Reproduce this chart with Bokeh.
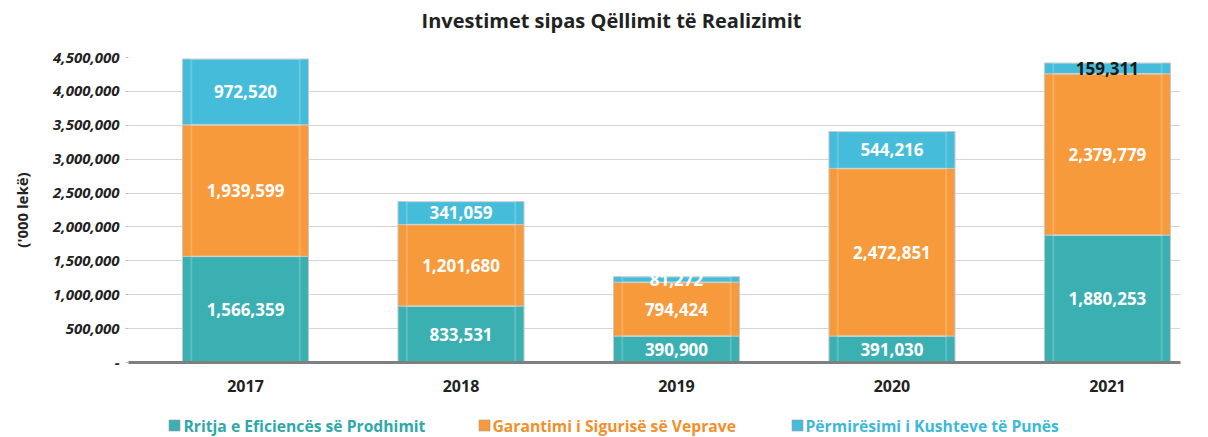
import numpy as np
from bokeh.plotting import figure
from bokeh.layouts import column
from bokeh.models import ColumnDataSource, FixedTicker, NumeralTickFormatter, Range1d
from bokeh.core.properties import value
from bokeh.embed import file_html
from bokeh.resources import INLINE

title_text = "Investimet sipas Qëllimit të Realizimit"
years = ["2017", "2018", "2019", "2020", "2021"]
series_names = ["Rritja e Eficiencës së Prodhimit", "Garantimi i Sigurisë së Veprave", "Përmirësimi i Kushteve të Punës"]
eficienca = [1566359, 833531, 390900, 391030, 1880253]
siguria = [1939599, 1201680, 794424, 2472851, 2379779]
kushtet = [972520, 341059, 81272, 544216, 159311]
y_ticks = [0, 500000, 1000000, 1500000, 2000000, 2500000, 3000000, 3500000, 4000000, 4500000]

colors = ["#3BB0B2", "#F79A3B", "#45BDDA"]
legend_colors = ["#2EA8A8", "#F28F2A", "#3DB9D8"]
FONT = "Open Sans"
W = 1208
TH, PH, LH = 40, 365, 32
FL, FR = 128, 1180  # frame left / right in page pixels


def blank(h):
    f = figure(width=W, height=h, output_backend="svg", toolbar_location=None,
               x_range=Range1d(FL, FR), y_range=Range1d(0, h),
               min_border_left=FL, min_border_right=W - FR,
               min_border_top=0, min_border_bottom=0)
    f.axis.visible = False
    f.grid.visible = False
    f.outline_line_color = None
    return f

# ---- title strip
tf = blank(TH)
tf.text(x=[611], y=[TH - 20], text=[title_text], text_align="center", text_baseline="middle",
        text_font=value(FONT), text_font_style="bold", text_font_size="20px", text_color="#222222")

# ---- main chart
p = figure(width=W, height=PH, output_backend="svg", toolbar_location=None,
           x_range=Range1d(-0.543, 4.339), y_range=Range1d(0, 4500000),
           min_border_left=FL, min_border_right=W - FR, min_border_top=17, min_border_bottom=43)
p.outline_line_color = None

x = np.arange(len(years))
series = [eficienca, siguria, kushtet]
bottom = np.zeros(len(years))
for vals, c in zip(series, colors):
    vals = np.array(vals, dtype=float)
    top = bottom + vals
    src = ColumnDataSource(dict(x=x, bottom=bottom, top=top))
    p.vbar(x="x", bottom="bottom", top="top", width=0.585, source=src,
           fill_color=c, line_color="#C8C8C8", line_width=1)
    p.vbar(x="x", bottom="bottom", top="top", width=0.585 * 0.86, source=src,
           fill_alpha=0, line_color="white", line_alpha=0.18, line_width=2)
    bottom = top

bottom = np.zeros(len(years))
for si, vals in enumerate(series):
    vals = np.array(vals, dtype=float)
    mid = bottom + vals / 2
    txt = [f"{int(v):,}" for v in vals]
    tcol = ["white"] * len(years)
    if si == 2:
        tcol[4] = "#1A1A1A"
    src = ColumnDataSource(dict(x=x, y=mid, t=txt, c=tcol))
    p.text(x="x", y="y", text="t", source=src, text_color="c", text_align="center",
           text_baseline="middle", text_font=value(FONT), text_font_style="bold",
           text_font_size="17px")
    bottom = bottom + vals

p.xgrid.grid_line_color = None
p.ygrid.grid_line_color = "#D4D4D4"
p.ygrid.grid_line_width = 1
p.yaxis.ticker = FixedTicker(ticks=y_ticks)
p.yaxis.formatter = NumeralTickFormatter(format="0,0")
p.yaxis.major_label_overrides = {0: "-"}
p.yaxis.major_label_text_font = FONT
p.yaxis.major_label_text_font_style = "bold italic"
p.yaxis.major_label_text_font_size = "15px"
p.yaxis.major_label_text_color = "#222222"
p.yaxis.axis_line_color = None
p.yaxis.major_tick_line_color = "#BFBFBF"
p.yaxis.major_tick_in = 0
p.yaxis.major_tick_out = 3
p.yaxis.minor_tick_line_color = None
p.yaxis.major_label_standoff = 6
p.yaxis.axis_label = "('000 lekë)"
p.yaxis.axis_label_text_font = FONT
p.yaxis.axis_label_text_font_style = "bold"
p.yaxis.axis_label_text_font_size = "15px"
p.yaxis.axis_label_text_color = "#222222"
p.yaxis.axis_label_standoff = 18

p.xaxis.ticker = FixedTicker(ticks=list(x))
p.xaxis.major_label_overrides = {int(i): y for i, y in zip(x, years)}
p.xaxis.major_label_text_font = FONT
p.xaxis.major_label_text_font_style = "bold"
p.xaxis.major_label_text_font_size = "16px"
p.xaxis.major_label_text_color = "#222222"
p.xaxis.axis_line_color = "#7F7F7F"
p.xaxis.axis_line_width = 3
p.xaxis.major_tick_line_color = None
p.xaxis.minor_tick_line_color = None
p.xaxis.major_label_standoff = 11

# ---- legend strip
lf = blank(LH)
mk_x = [174, 484, 797]
tx_x = [183, 492, 805]
ly = LH - 20
lf.scatter(x=mk_x, y=[ly] * 3, marker="square", size=11, fill_color=colors,
           line_color="#9A9A9A", line_width=0.6)
lf.text(x=tx_x, y=[ly] * 3, text=series_names, text_color=legend_colors, text_align="left",
        text_baseline="middle", text_font=value(FONT), text_font_style="bold", text_font_size="15.7px")

open("out.html", "w").write(file_html(column(tf, p, lf), INLINE))
